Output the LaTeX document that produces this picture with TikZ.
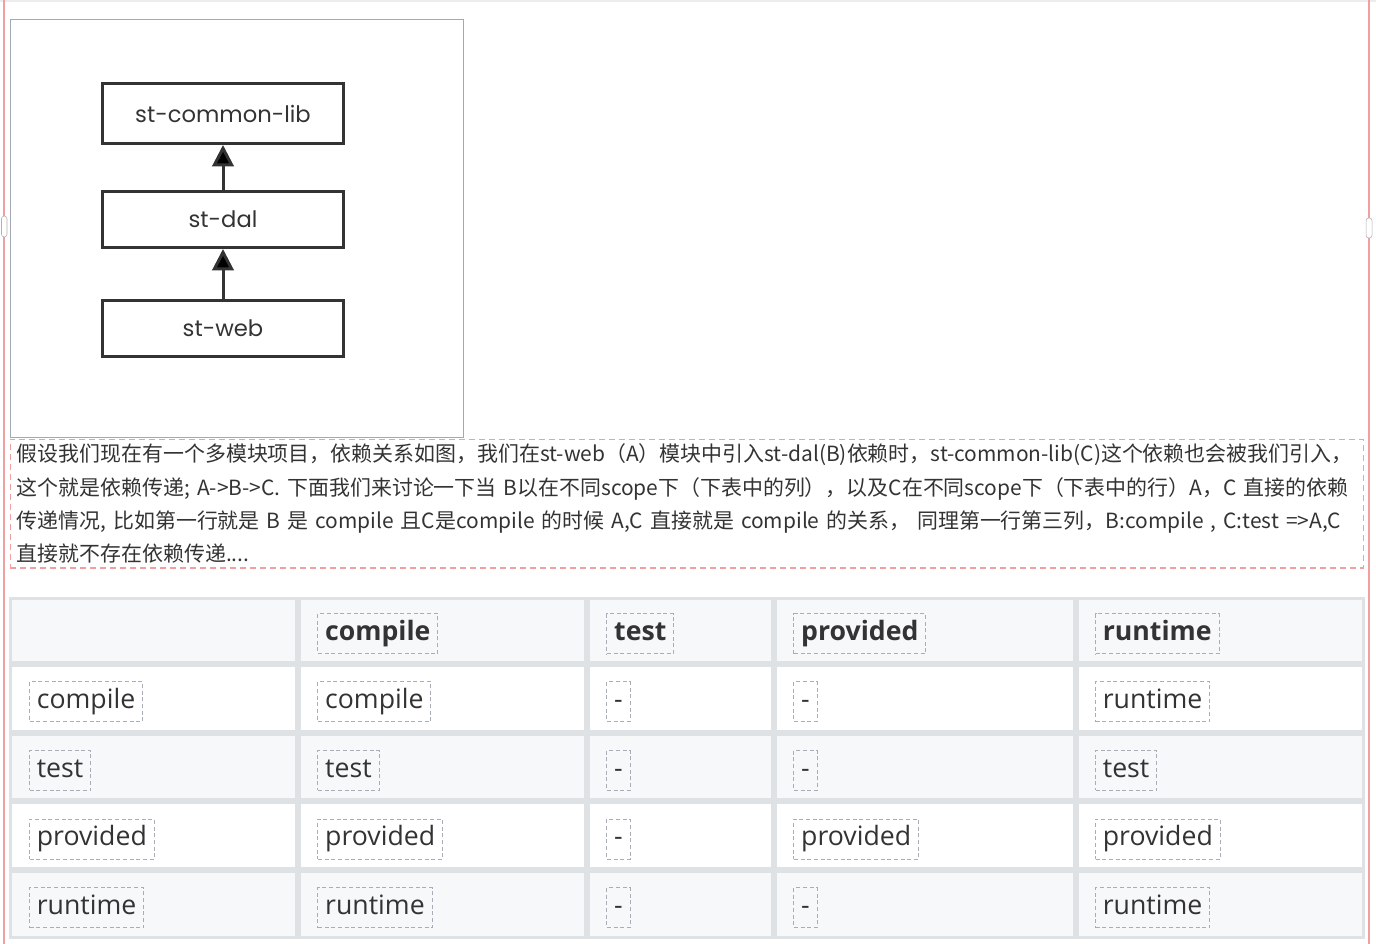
\documentclass[tikz,border=0pt]{standalone}
\usepackage{fontspec}
\usepackage{xcolor}
\usetikzlibrary{matrix,positioning,arrows.meta}
\newfontfamily\cjk{Noto Sans CJK SC}
\newfontfamily\tblfont{Open Sans}
\newfontfamily\boxfont{Poppins}
\definecolor{pagered}{HTML}{F0A0A0}
\definecolor{tblline}{HTML}{DFE2E5}
\definecolor{tblgray}{HTML}{F6F8FA}
\definecolor{dashgray}{HTML}{A9ADB8}
\definecolor{ink}{HTML}{333333}
\definecolor{framegray}{HTML}{A3A8B4}

\tikzset{
  module/.style={draw=ink, line width=2.25pt, minimum width=181pt, minimum height=42pt,
    font=\boxfont\fontsize{17}{19}\selectfont, text=ink},
  tag/.style={draw=dashgray, dash pattern=on 3pt off 2pt, line width=0.75pt, inner xsep=5.5pt,
    inner ysep=5pt, text height=15pt, text depth=5pt, yshift=-2.5pt, text=ink,
    font=\tblfont\fontsize{20}{24}\selectfont},
  cellbox/.style={draw=tblline, line width=2.25pt, outer sep=0pt, inner sep=0pt,
    minimum height=49.3pt, fill=white},
}

\begin{document}
\begin{tikzpicture}[x=0.75pt, y=-0.75pt, >={Triangle[length=16pt, width=16pt]}]
\useasboundingbox (0,0) rectangle (1376,944);
% page edges
\draw[gray!15, line width=1.5pt] (0,1) -- (1376,1);
\draw[pagered, line width=1.5pt] (4,0) -- (4,944);
\draw[pagered, line width=1.5pt] (1369,0) -- (1369,944);
\draw[gray!60, fill=white, rounded corners=2pt] (1.5,216) rectangle (7,237);
\draw[gray!60, fill=white, rounded corners=2pt] (1366,218) rectangle (1372,238);

% module picture
\draw[framegray] (10.5,19.5) rectangle (463,437);
\node[module, minimum height=45pt] (common) at (223,113.5) {st-common-lib};
\node[module, below=33.75pt of common] (dal) {st-dal};
\node[module, below=37.5pt of dal] (web) {st-web};
\path[->, draw=ink, line width=2.25pt]
(web) edge (dal)
(dal) edge (common)
;

% text
\node[draw=pagered, dash pattern=on 4.5pt off 3pt, line width=1.1pt, anchor=north west,
  inner xsep=4.9pt, inner ysep=3.4pt, text width=1005pt, align=left, text=ink,
  font=\cjk\fontsize{15.7}{25}\selectfont] (para) at (9.5,438.5)
{假设我们现在有一个多模块项目，依赖关系如图，我们在st-web（A）模块中引入st-dal(B)依赖时，st-common-lib(C)这个依赖也会被我们引入，\\
这个就是依赖传递; A->B->C. 下面我们来讨论一下当 B以在不同scope下（下表中的列），以及C在不同scope下（下表中的行）A，C 直接的依赖\\
传递情况, 比如第一行就是 B 是 compile 且C是compile 的时候 A,C 直接就是 compile 的关系， 同理第一行第三列，B:compile , C:test =>A,C\\
直接就不存在依赖传递....};

% table
\matrix (m) [matrix of nodes, nodes in empty cells, anchor=north west, inner sep=0pt, outer sep=0pt,
  row sep=0pt, column sep=0pt, nodes={cellbox},
  column 1/.style={nodes={minimum width=214pt}},
  column 2/.style={nodes={minimum width=214.5pt}},
  column 3/.style={nodes={minimum width=138pt}},
  column 4/.style={nodes={minimum width=224pt}},
  column 5/.style={nodes={minimum width=214.5pt}},
  row 1/.style={nodes={fill=tblgray, minimum height=48pt}},
  row 3/.style={nodes={fill=tblgray}},
  row 5/.style={nodes={fill=tblgray}}] at (9.5,597)
{
  & & & & \\
  & & & & \\
  & & & & \\
  & & & & \\
  & & & & \\
};
\foreach \txt [count=\c from 2] in {compile,test,provided,runtime}
  \node[tag, font=\tblfont\bfseries\fontsize{20}{24}\selectfont, right=13.5pt of m-1-\c.west] (h-\c) {\txt};
\foreach \row [count=\r from 2] in {{compile,compile,-,-,runtime},{test,test,-,-,test},
    {provided,provided,-,provided,provided},{runtime,runtime,-,-,runtime}}
  \foreach \txt [count=\c] in \row
    \node[tag, right=13.5pt of m-\r-\c.west] (t-\r-\c) {\txt};
\end{tikzpicture}
\end{document}
